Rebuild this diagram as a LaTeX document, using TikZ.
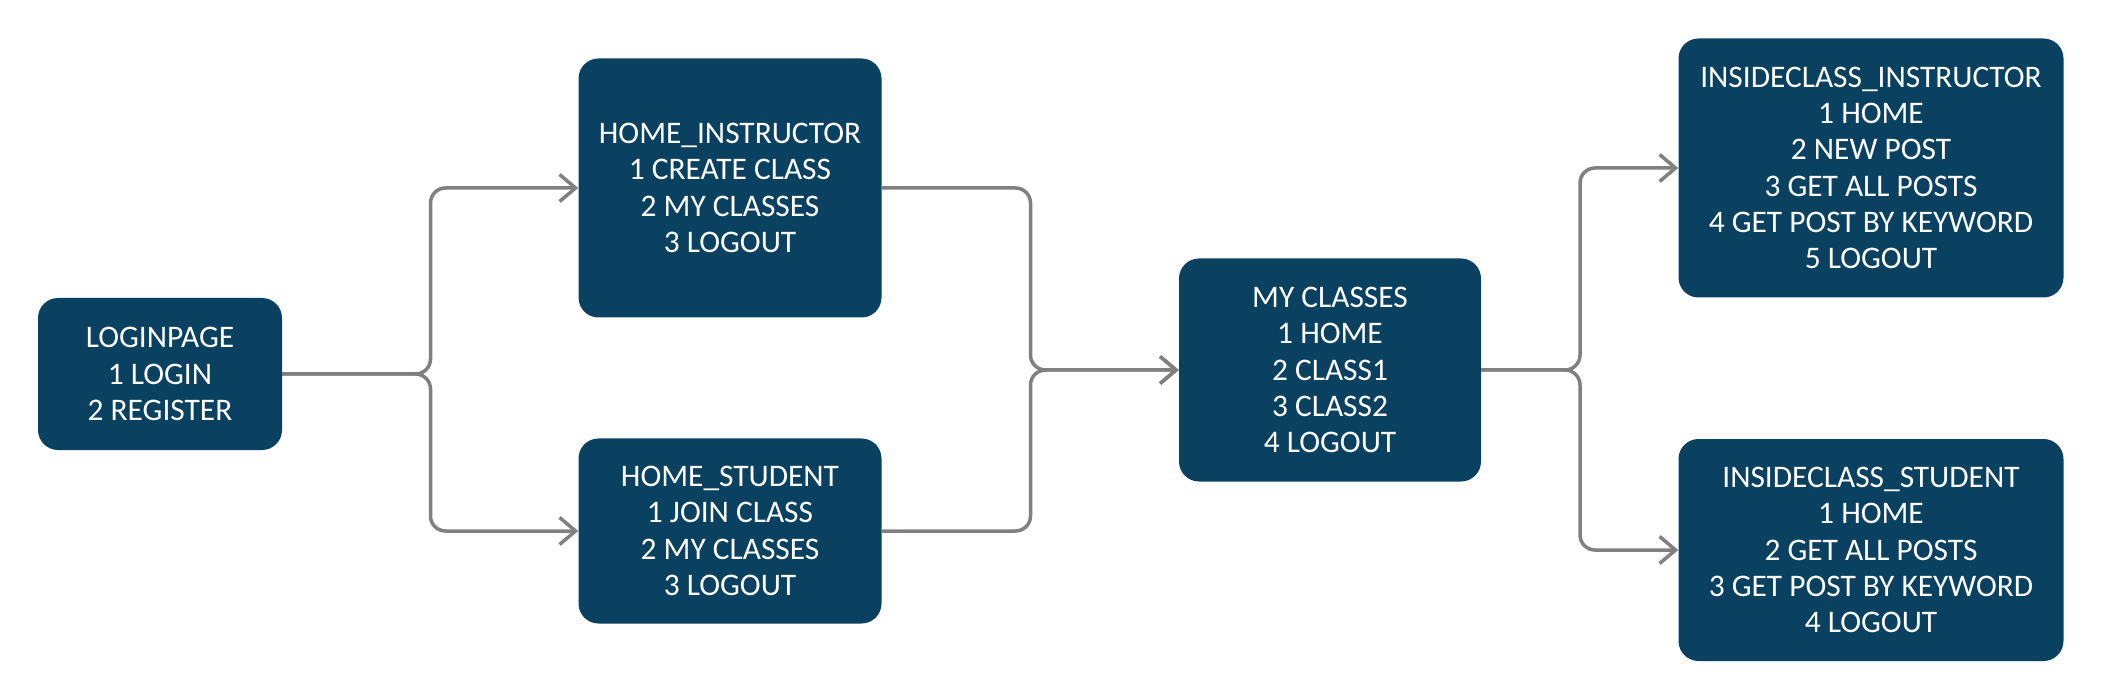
\documentclass[tikz,border=0pt]{standalone}
\usepackage{fontspec}
\setmainfont{Carlito}
\usetikzlibrary{arrows.meta}
\definecolor{boxblue}{HTML}{0B4160}
\definecolor{linegray}{HTML}{808080}
\begin{document}
\begin{tikzpicture}[x=1pt,y=-1pt,
  screen/.style={fill=boxblue, draw=none, rounded corners=20pt, text=white, align=center,
    inner sep=0pt, font=\fontsize{31.4}{36.2}\selectfont},
  conn/.style={draw=linegray, line width=3.5pt, rounded corners=15pt, line join=round,
    -{Straight Barb[length=16pt,width=27pt,line width=3.5pt]}}
]
\useasboundingbox (0,0) rectangle (2102,700);
\node[screen, minimum width=244pt, minimum height=152pt] (login) at (160,374) {LOGINPAGE\\1 LOGIN\\2 REGISTER};
\node[screen, minimum width=303pt, minimum height=259pt] (hi) at (730,188) {HOME\_INSTRUCTOR\\1 CREATE CLASS\\2 MY CLASSES\\3 LOGOUT};
\node[screen, minimum width=303pt, minimum height=185pt] (hs) at (730,531) {HOME\_STUDENT\\1 JOIN CLASS\\2 MY CLASSES\\3 LOGOUT};
\node[screen, minimum width=302pt, minimum height=223pt] (mc) at (1330,370) {MY CLASSES\\1 HOME\\2 CLASS1\\3 CLASS2\\4 LOGOUT};
\node[screen, minimum width=385pt, minimum height=259pt] (ii) at (1871,168) {INSIDECLASS\_INSTRUCTOR\\1 HOME\\2 NEW POST\\3 GET ALL POSTS\\4 GET POST BY KEYWORD\\5 LOGOUT};
\node[screen, minimum width=385pt, minimum height=222pt] (is) at (1871,550) {INSIDECLASS\_STUDENT\\1 HOME\\2 GET ALL POSTS\\3 GET POST BY KEYWORD\\4 LOGOUT};
\coordinate (j1) at (430.5,374);
\coordinate (j2) at (1030.5,370);
\coordinate (j3) at (1580,370);
\draw[conn] (login.east) -- (j1) |- (hi.west);
\draw[conn] (login.east) -- (j1) |- (hs.west);
\draw[conn] (hi.east) -| (j2) -- (mc.west);
\draw[conn] (hs.east) -| (j2) -- (mc.west);
\draw[conn] (mc.east) -- (j3) |- (ii.west);
\draw[conn] (mc.east) -- (j3) |- (is.west);
\end{tikzpicture}
\end{document}
